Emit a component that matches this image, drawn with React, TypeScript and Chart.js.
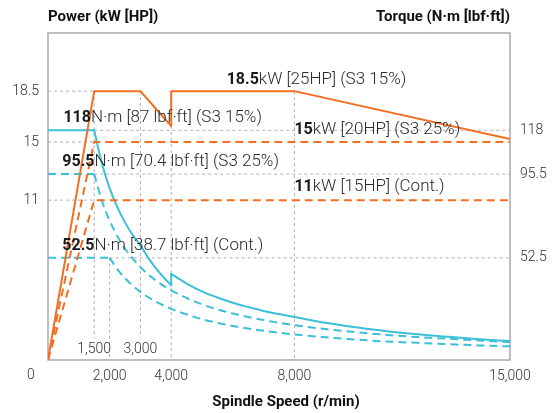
import React, { useEffect, useRef } from 'react';
import { Chart, registerables } from 'chart.js';

Chart.register(...registerables);

const ORANGE = '#f26f21';
const CYAN = '#3cbfd8';
const GUIDE = '#b0b0b0';
const FONT = 'Roboto, "Noto Sans", sans-serif';

// axis ticks
const xTicks = [2000, 4000, 8000, 15000];
const xInnerTicks = [1500, 3000];
const powerTicks = [11, 15, 18.5];
const torqueTicks = [52.5, 95.5, 118];

// power curves (kW) vs spindle speed (r/min)
const powerS3_15_rpm = [0, 1500, 3000, 4000, 4000, 8000, 15000];
const powerS3_15_kw = [0, 18.5, 18.5, 16.1, 18.5, 18.5, 15.2];
const powerS3_25_rpm = [0, 1500, 15000];
const powerS3_25_kw = [0, 15, 15];
const powerCont_rpm = [0, 1500, 15000];
const powerCont_kw = [0, 11, 11];

// torque curves (N·m) vs spindle speed (r/min)
const torqueS3_15_rpm = [0, 1500, 1750, 2000, 2250, 2500, 2750, 3000, 3250, 3500, 3750, 4000, 4000, 4500, 5000, 5500, 6000, 6500, 7000, 7500, 8000, 9000, 10000, 11000, 12000, 13000, 14000, 15000];
const torqueS3_15_nm = [118, 118, 100.9, 88.3, 78.5, 70.7, 64.2, 58.9, 52.6, 47.2, 42.5, 38.4, 44.2, 39.3, 35.3, 32.1, 29.4, 27.2, 25.2, 23.6, 22.1, 19.1, 16.8, 14.8, 13.2, 11.9, 10.7, 9.7];
const torqueS3_25_rpm = [0, 1500, 1750, 2000, 2250, 2500, 3000, 3500, 4000, 5000, 6000, 7000, 8000, 9000, 10000, 11000, 12000, 13000, 14000, 15000];
const torqueS3_25_nm = [95.5, 95.5, 81.8, 71.6, 63.7, 57.3, 47.7, 40.9, 35.8, 28.6, 23.9, 20.5, 17.9, 15.9, 14.3, 12.9, 11.8, 10.9, 10.0, 9.2];
const torqueCont_rpm = [0, 2000, 2250, 2500, 3000, 3500, 4000, 5000, 6000, 7000, 8000, 9000, 10000, 11000, 12000, 13000, 14000, 15000];
const torqueCont_nm = [52.5, 52.5, 46.7, 42.0, 35.0, 30.0, 26.3, 21.0, 17.5, 15.0, 13.1, 11.7, 10.5, 9.5, 8.8, 8.1, 7.5, 7.0];

// dashed guide lines: [axis, x1, v1, x2, v2]
const guides: [string, number, number, number, number][] = [
  ['y', 0, 18.5, 1500, 18.5],
  ['y', 0, 15, 1500, 15],
  ['y', 0, 11, 1500, 11],
  ['y1', 1500, 118, 15000, 118],
  ['y1', 1500, 95.5, 15000, 95.5],
  ['y1', 2000, 52.5, 15000, 52.5],
  ['y', 1500, 18.5, 1500, 1.5],
  ['y', 3000, 18.5, 3000, 1.5],
  ['y', 4000, 16.1, 4000, 0],
  ['y', 8000, 18.5, 8000, 0],
  ['y1', 2000, 52.5, 2000, 0],
];

// annotation texts
const annBold = ['18.5', '118', '15', '95.5', '11', '52.5'];
const annRest = [
  'kW [25HP] (S3 15%)',
  'N·m [87 lbf·ft] (S3 15%)',
  'kW [20HP] (S3 25%)',
  'N·m [70.4 lbf·ft] (S3 25%)',
  'kW [15HP] (Cont.)',
  'N·m [38.7 lbf·ft] (Cont.)',
];
const annAt: [number, number][] = [
  [5800, 19.0],
  [500, 16.37],
  [8000, 15.57],
  [464, 13.34],
  [8000, 11.6],
  [464, 7.6],
];

const fmt = (v: number) => String(v).replace(/\B(?=(\d{3})+(?!\d))/g, ',');

function pts(xs: number[], ys: number[]) {
  return xs.map((x, i) => ({ x, y: ys[i] }));
}

function runs(xs: number[], ys: number[]) {
  const out: { kind: string; pts: { x: number; y: number }[] }[] = [];
  let cur: any = null;
  for (let i = 0; i < xs.length - 1; i++) {
    const kind = xs[i] === xs[i + 1] || ys[i] === ys[i + 1] ? 'straight' : 'curve';
    if (!cur || cur.kind !== kind) {
      cur = { kind, pts: [{ x: xs[i], y: ys[i] }] };
      out.push(cur);
    }
    cur.pts.push({ x: xs[i + 1], y: ys[i + 1] });
  }
  return out;
}

const decor = {
  id: 'decor',
  beforeDatasetsDraw(chart: any) {
    const { ctx, chartArea: a } = chart;
    ctx.save();
    ctx.strokeStyle = '#a9a9a9';
    ctx.lineWidth = 1.5;
    ctx.strokeRect(a.left, a.top, a.right - a.left, a.bottom - a.top);
    ctx.restore();
  },
  afterDatasetsDraw(chart: any) {
    const { ctx, chartArea: a, scales } = chart;
    const sx = scales.x;
    const sy = scales.y;
    ctx.save();
    // titles
    ctx.fillStyle = '#111';
    ctx.textBaseline = 'alphabetic';
    ctx.font = `700 15px ${FONT}`;
    ctx.textAlign = 'left';
    ctx.fillText('Power (kW [HP])', a.left, 21);
    ctx.textAlign = 'right';
    ctx.fillText('Torque (N·m [lbf·ft])', a.right, 21);
    ctx.textAlign = 'center';
    ctx.fillText('Spindle Speed (r/min)', (a.left + a.right) / 2 + 7, 406);

    // tick-like labels
    ctx.fillStyle = '#333';
    ctx.font = `300 14px ${FONT}`;
    ctx.textAlign = 'center';
    ctx.fillText('0', sx.getPixelForValue(0) - 17, 379);
    xInnerTicks.forEach((v) => ctx.fillText(fmt(v), sx.getPixelForValue(v), 353));

    // annotations
    ctx.textAlign = 'left';
    annBold.forEach((b, i) => {
      const x = sx.getPixelForValue(annAt[i][0]);
      const y = sy.getPixelForValue(annAt[i][1]);
      ctx.fillStyle = '#1a1a1a';
      ctx.font = `700 16px ${FONT}`;
      ctx.fillText(b, x, y);
      const w = ctx.measureText(b).width;
      ctx.fillStyle = '#2a2a2a';
      ctx.font = `300 17px ${FONT}`;
      ctx.fillText(annRest[i], x + w, y);
    });
    ctx.restore();
  },
};

export default function App() {
  const ref = useRef<HTMLCanvasElement>(null);
  useEffect(() => {
    document.body.style.margin = '0';
    const canvas = ref.current!;
    const datasets: any[] = [];
    const lineBase = { showLine: true, pointRadius: 0, borderWidth: 2, fill: false, borderCapStyle: 'round', borderJoinStyle: 'round' };

    guides.forEach((g) => {
      datasets.push({
        ...lineBase,
        data: [{ x: g[1], y: g[2] }, { x: g[3], y: g[4] }],
        yAxisID: g[0],
        borderColor: GUIDE,
        borderWidth: 1,
        borderDash: [3, 3],
        borderCapStyle: 'butt',
        order: 10,
      });
    });

    const addPower = (xs: number[], ys: number[], dashed: boolean) => {
      datasets.push({
        ...lineBase,
        data: pts(xs, ys),
        yAxisID: 'y',
        borderColor: ORANGE,
        borderDash: dashed ? [8, 5] : [],
        borderCapStyle: dashed ? 'butt' : 'round',
        tension: 0,
        order: 1,
      });
    };
    addPower(powerS3_15_rpm, powerS3_15_kw, false);
    addPower(powerS3_25_rpm, powerS3_25_kw, true);
    addPower(powerCont_rpm, powerCont_kw, true);

    const addTorque = (xs: number[], ys: number[], dashed: boolean) => {
      runs(xs, ys).forEach((r) => {
        datasets.push({
          ...lineBase,
          data: r.pts,
          yAxisID: 'y1',
          borderColor: CYAN,
          borderDash: dashed ? [8, 5] : [],
          borderCapStyle: dashed ? 'butt' : 'round',
          cubicInterpolationMode: r.kind === 'curve' ? 'monotone' : 'default',
          tension: r.kind === 'curve' ? 0.4 : 0,
          order: 1,
        });
      });
    };
    addTorque(torqueS3_15_rpm, torqueS3_15_nm, false);
    addTorque(torqueS3_25_rpm, torqueS3_25_nm, true);
    addTorque(torqueCont_rpm, torqueCont_nm, true);

    const tickFont = { family: FONT, size: 14, weight: '300' as any };

    const chart = new Chart(canvas, {
      type: 'scatter',
      data: { datasets },
      plugins: [decor],
      options: {
        animation: false,
        responsive: false,
        devicePixelRatio: 1,
        layout: { padding: { top: 33, left: 0, right: 0, bottom: 0 } },
        plugins: { legend: { display: false }, tooltip: { enabled: false } },
        scales: {
          x: {
            type: 'linear',
            min: 0,
            max: 15000,
            position: 'bottom',
            grid: { display: false, drawTicks: false },
            border: { display: false },
            ticks: { padding: 8, font: tickFont, color: '#333', autoSkip: false, maxRotation: 0, callback: (v: any) => fmt(Number(v)) },
            afterBuildTicks: (s: any) => { s.ticks = xTicks.map((v) => ({ value: v })); },
            afterFit: (s: any) => { s.height = 53; },
          },
          y: {
            type: 'linear',
            position: 'left',
            min: 0,
            max: 22.5,
            grid: { display: false, drawTicks: false },
            border: { display: false },
            ticks: { padding: 9, font: tickFont, color: '#333', autoSkip: false, callback: (v: any) => String(v) },
            afterBuildTicks: (s: any) => { s.ticks = powerTicks.map((v) => ({ value: v })); },
            afterFit: (s: any) => { s.width = 48; },
          },
          y1: {
            type: 'linear',
            position: 'right',
            min: 0,
            max: 168,
            grid: { display: false, drawTicks: false },
            border: { display: false },
            ticks: { padding: 10, font: tickFont, color: '#333', autoSkip: false, callback: (v: any) => String(v) },
            afterBuildTicks: (s: any) => { s.ticks = torqueTicks.map((v) => ({ value: v })); },
            afterFit: (s: any) => { s.width = 43; },
          },
        },
      } as any,
    });
    return () => chart.destroy();
  }, []);
  return (
    <div style={{ width: 553, height: 413 }}>
      <canvas ref={ref} width={553} height={413} style={{ display: 'block', width: 553, height: 413 }} />
    </div>
  );
}
